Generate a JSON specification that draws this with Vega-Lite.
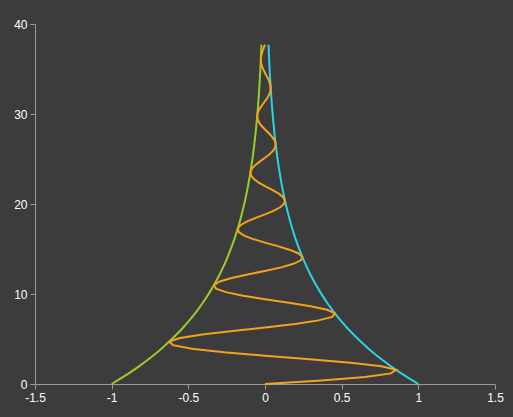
{
  "$schema": "https://vega.github.io/schema/vega-lite/v6.json",
  "width": 460,
  "height": 360,
  "autosize": {"type": "none"},
  "padding": {"left": 35, "top": 24, "right": 18, "bottom": 33},
  "background": "#3c3c3c",
  "config": {"view": {"stroke": null}},
  "data": {"values": [
    {"t":0,"upper":1,"lower":-1,"wave":0},
    {"t":0.3927,"upper":0.96149,"lower":-0.96149,"wave":0.36795},
    {"t":0.7854,"upper":0.92447,"lower":-0.92447,"wave":0.6537},
    {"t":1.1781,"upper":0.88887,"lower":-0.88887,"wave":0.82121},
    {"t":1.5708,"upper":0.85464,"lower":-0.85464,"wave":0.85464},
    {"t":1.9635,"upper":0.82173,"lower":-0.82173,"wave":0.75918},
    {"t":2.3562,"upper":0.79009,"lower":-0.79009,"wave":0.55868},
    {"t":2.7489,"upper":0.75967,"lower":-0.75967,"wave":0.29071},
    {"t":3.1416,"upper":0.7304,"lower":-0.7304,"wave":0},
    {"t":3.5343,"upper":0.70227,"lower":-0.70227,"wave":-0.26874},
    {"t":3.927,"upper":0.67523,"lower":-0.67523,"wave":-0.47746},
    {"t":4.3197,"upper":0.64923,"lower":-0.64923,"wave":-0.59981},
    {"t":4.7124,"upper":0.62423,"lower":-0.62423,"wave":-0.62423},
    {"t":5.1051,"upper":0.60019,"lower":-0.60019,"wave":-0.5545},
    {"t":5.4978,"upper":0.57708,"lower":-0.57708,"wave":-0.40806},
    {"t":5.8905,"upper":0.55486,"lower":-0.55486,"wave":-0.21233},
    {"t":6.2832,"upper":0.53348,"lower":-0.53348,"wave":0},
    {"t":6.6759,"upper":0.51294,"lower":-0.51294,"wave":0.19629},
    {"t":7.0686,"upper":0.49319,"lower":-0.49319,"wave":0.34874},
    {"t":7.4613,"upper":0.47419,"lower":-0.47419,"wave":0.43809},
    {"t":7.854,"upper":0.45593,"lower":-0.45593,"wave":0.45593},
    {"t":8.2467,"upper":0.43838,"lower":-0.43838,"wave":0.40501},
    {"t":8.6394,"upper":0.4215,"lower":-0.4215,"wave":0.29805},
    {"t":9.0321,"upper":0.40527,"lower":-0.40527,"wave":0.15509},
    {"t":9.4248,"upper":0.38965,"lower":-0.38965,"wave":0},
    {"t":9.8175,"upper":0.37464,"lower":-0.37464,"wave":-0.14337},
    {"t":10.2102,"upper":0.36022,"lower":-0.36022,"wave":-0.25471},
    {"t":10.6029,"upper":0.34635,"lower":-0.34635,"wave":-0.31999},
    {"t":10.9956,"upper":0.33301,"lower":-0.33301,"wave":-0.33301},
    {"t":11.3883,"upper":0.32019,"lower":-0.32019,"wave":-0.29582},
    {"t":11.781,"upper":0.30786,"lower":-0.30786,"wave":-0.21769},
    {"t":12.1737,"upper":0.29601,"lower":-0.29601,"wave":-0.11328},
    {"t":12.5664,"upper":0.2846,"lower":-0.2846,"wave":0},
    {"t":12.9591,"upper":0.27364,"lower":-0.27364,"wave":0.10472},
    {"t":13.3518,"upper":0.2631,"lower":-0.2631,"wave":0.18604},
    {"t":13.7445,"upper":0.25297,"lower":-0.25297,"wave":0.23371},
    {"t":14.1372,"upper":0.24323,"lower":-0.24323,"wave":0.24323},
    {"t":14.5299,"upper":0.23386,"lower":-0.23386,"wave":0.21606},
    {"t":14.9226,"upper":0.22486,"lower":-0.22486,"wave":0.159},
    {"t":15.3153,"upper":0.2162,"lower":-0.2162,"wave":0.08274},
    {"t":15.708,"upper":0.20787,"lower":-0.20787,"wave":0},
    {"t":16.1007,"upper":0.19987,"lower":-0.19987,"wave":-0.07649},
    {"t":16.4934,"upper":0.19217,"lower":-0.19217,"wave":-0.13589},
    {"t":16.8861,"upper":0.18477,"lower":-0.18477,"wave":-0.17071},
    {"t":17.2788,"upper":0.17765,"lower":-0.17765,"wave":-0.17765},
    {"t":17.6715,"upper":0.17081,"lower":-0.17081,"wave":-0.15781},
    {"t":18.0642,"upper":0.16424,"lower":-0.16424,"wave":-0.11614},
    {"t":18.4569,"upper":0.15791,"lower":-0.15791,"wave":-0.06043},
    {"t":18.8496,"upper":0.15183,"lower":-0.15183,"wave":0},
    {"t":19.2423,"upper":0.14598,"lower":-0.14598,"wave":0.05586},
    {"t":19.635,"upper":0.14036,"lower":-0.14036,"wave":0.09925},
    {"t":20.0277,"upper":0.13496,"lower":-0.13496,"wave":0.12469},
    {"t":20.4204,"upper":0.12976,"lower":-0.12976,"wave":0.12976},
    {"t":20.8131,"upper":0.12476,"lower":-0.12476,"wave":0.11526},
    {"t":21.2058,"upper":0.11996,"lower":-0.11996,"wave":0.08482},
    {"t":21.5985,"upper":0.11534,"lower":-0.11534,"wave":0.04414},
    {"t":21.9911,"upper":0.1109,"lower":-0.1109,"wave":0},
    {"t":22.3838,"upper":0.10663,"lower":-0.10663,"wave":-0.04081},
    {"t":22.7765,"upper":0.10252,"lower":-0.10252,"wave":-0.07249},
    {"t":23.1692,"upper":0.09858,"lower":-0.09858,"wave":-0.09108},
    {"t":23.5619,"upper":0.09478,"lower":-0.09478,"wave":-0.09478},
    {"t":23.9546,"upper":0.09113,"lower":-0.09113,"wave":-0.08419},
    {"t":24.3473,"upper":0.08762,"lower":-0.08762,"wave":-0.06196},
    {"t":24.74,"upper":0.08425,"lower":-0.08425,"wave":-0.03224},
    {"t":25.1327,"upper":0.081,"lower":-0.081,"wave":0},
    {"t":25.5254,"upper":0.07788,"lower":-0.07788,"wave":0.0298},
    {"t":25.9181,"upper":0.07488,"lower":-0.07488,"wave":0.05295},
    {"t":26.3108,"upper":0.072,"lower":-0.072,"wave":0.06652},
    {"t":26.7035,"upper":0.06923,"lower":-0.06923,"wave":0.06923},
    {"t":27.0962,"upper":0.06656,"lower":-0.06656,"wave":0.06149},
    {"t":27.4889,"upper":0.064,"lower":-0.064,"wave":0.04526},
    {"t":27.8816,"upper":0.06153,"lower":-0.06153,"wave":0.02355},
    {"t":28.2743,"upper":0.05916,"lower":-0.05916,"wave":0},
    {"t":28.667,"upper":0.05688,"lower":-0.05688,"wave":-0.02177},
    {"t":29.0597,"upper":0.05469,"lower":-0.05469,"wave":-0.03867},
    {"t":29.4524,"upper":0.05259,"lower":-0.05259,"wave":-0.04859},
    {"t":29.8451,"upper":0.05056,"lower":-0.05056,"wave":-0.05056},
    {"t":30.2378,"upper":0.04861,"lower":-0.04861,"wave":-0.04491},
    {"t":30.6305,"upper":0.04674,"lower":-0.04674,"wave":-0.03305},
    {"t":31.0232,"upper":0.04494,"lower":-0.04494,"wave":-0.0172},
    {"t":31.4159,"upper":0.04321,"lower":-0.04321,"wave":0},
    {"t":31.8086,"upper":0.04155,"lower":-0.04155,"wave":0.0159},
    {"t":32.2013,"upper":0.03995,"lower":-0.03995,"wave":0.02825},
    {"t":32.594,"upper":0.03841,"lower":-0.03841,"wave":0.03549},
    {"t":32.9867,"upper":0.03693,"lower":-0.03693,"wave":0.03693},
    {"t":33.3794,"upper":0.03551,"lower":-0.03551,"wave":0.03281},
    {"t":33.7721,"upper":0.03414,"lower":-0.03414,"wave":0.02414},
    {"t":34.1648,"upper":0.03283,"lower":-0.03283,"wave":0.01256},
    {"t":34.5575,"upper":0.03156,"lower":-0.03156,"wave":0},
    {"t":34.9502,"upper":0.03034,"lower":-0.03034,"wave":-0.01161},
    {"t":35.3429,"upper":0.02918,"lower":-0.02918,"wave":-0.02063},
    {"t":35.7356,"upper":0.02805,"lower":-0.02805,"wave":-0.02592},
    {"t":36.1283,"upper":0.02697,"lower":-0.02697,"wave":-0.02697},
    {"t":36.521,"upper":0.02593,"lower":-0.02593,"wave":-0.02396},
    {"t":36.9137,"upper":0.02494,"lower":-0.02494,"wave":-0.01764},
    {"t":37.3064,"upper":0.02397,"lower":-0.02397,"wave":-0.00917},
    {"t":37.6991,"upper":0.02305,"lower":-0.02305,"wave":0}
  ]},
  "transform": [{"fold": ["lower", "upper", "wave"], "as": ["series", "x"]}],
  "mark": {"type": "line", "strokeWidth": 2, "interpolate": "linear", "clip": false},
  "encoding": {
    "x": {
      "field": "x", "type": "quantitative",
      "scale": {"domain": [-1.5, 1.5], "nice": false, "zero": false},
      "axis": {
        "title": null, "values": [-1.5, -1, -0.5, 0, 0.5, 1, 1.5], "grid": false,
        "labelExpr": "toString(datum.value)",
        "domainColor": "#9a9a9a", "tickColor": "#9a9a9a", "tickSize": 5,
        "labelColor": "#ffffff", "labelFont": "Liberation Sans", "labelFontSize": 12,
        "labelPadding": 3, "labelFlush": false, "labelOverlap": false
      }
    },
    "y": {
      "field": "t", "type": "quantitative",
      "scale": {"domain": [0, 40], "nice": false},
      "axis": {
        "title": null, "values": [0, 10, 20, 30, 40], "grid": false,
        "labelExpr": "toString(datum.value)",
        "domainColor": "#9a9a9a", "tickColor": "#9a9a9a", "tickSize": 5,
        "labelColor": "#ffffff", "labelFont": "Liberation Sans", "labelFontSize": 12,
        "labelPadding": 3, "labelFlush": false, "labelOverlap": false
      }
    },
    "order": {"field": "t", "type": "quantitative"},
    "color": {
      "field": "series", "type": "nominal",
      "scale": {"domain": ["lower", "upper", "wave"], "range": ["#9acd2a", "#2ad4e0", "#f5a31a"]},
      "legend": null
    }
  }
}
